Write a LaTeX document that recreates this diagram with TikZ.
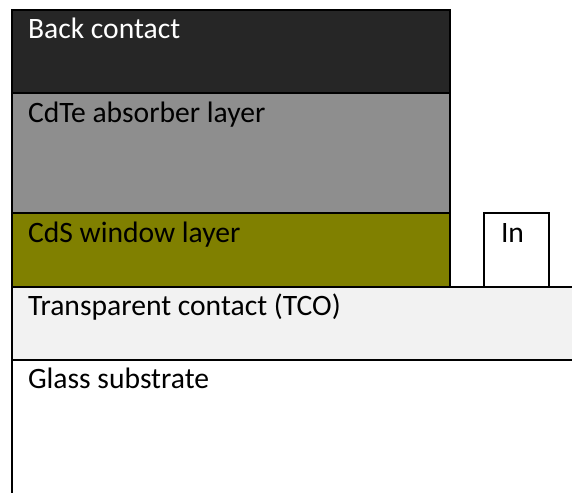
\documentclass[tikz,border=0pt]{standalone}
\usepackage{fontspec}
\setmainfont{Carlito}
\definecolor{backcol}{HTML}{262626}
\definecolor{cdtecol}{HTML}{8E8E8E}
\definecolor{cdscol}{HTML}{808000}
\definecolor{tcocol}{HTML}{F2F2F2}
\tikzset{layertext/.style={anchor=base west,inner sep=0pt,font=\fontsize{14.8}{17}\selectfont}}

\begin{document}
\begin{tikzpicture}[x=0.5pt,y=-0.5pt,line width=1pt]
\useasboundingbox (0,0) rectangle (572,493);
% Place layers

\filldraw[fill=backcol] (12,10) rectangle (450,93);
\filldraw[fill=cdtecol] (12,93) rectangle (450,213);
\filldraw[fill=cdscol] (12,213) rectangle (450,287);

\filldraw[fill=white] (484,213) rectangle (549,287);

\fill[tcocol] (12,287) rectangle (572,360);
\draw (572,287) -- (12,287) -- (12,360) -- (572,360);
\draw (12,360) -- (12,493);

% Labels
\node[layertext,text=white] (back) at (27,38) {Back contact};
\node[layertext] (cdte) at (27,122) {CdTe absorber layer};
\node[layertext] (cds) at (27,242) {CdS window layer};
\node[layertext] (in) at (500,242) {In};
\node[layertext] (tco) at (27,315) {Transparent contact (TCO)};
\node[layertext] (glass) at (27,388) {Glass substrate};

\end{tikzpicture}
\end{document}
